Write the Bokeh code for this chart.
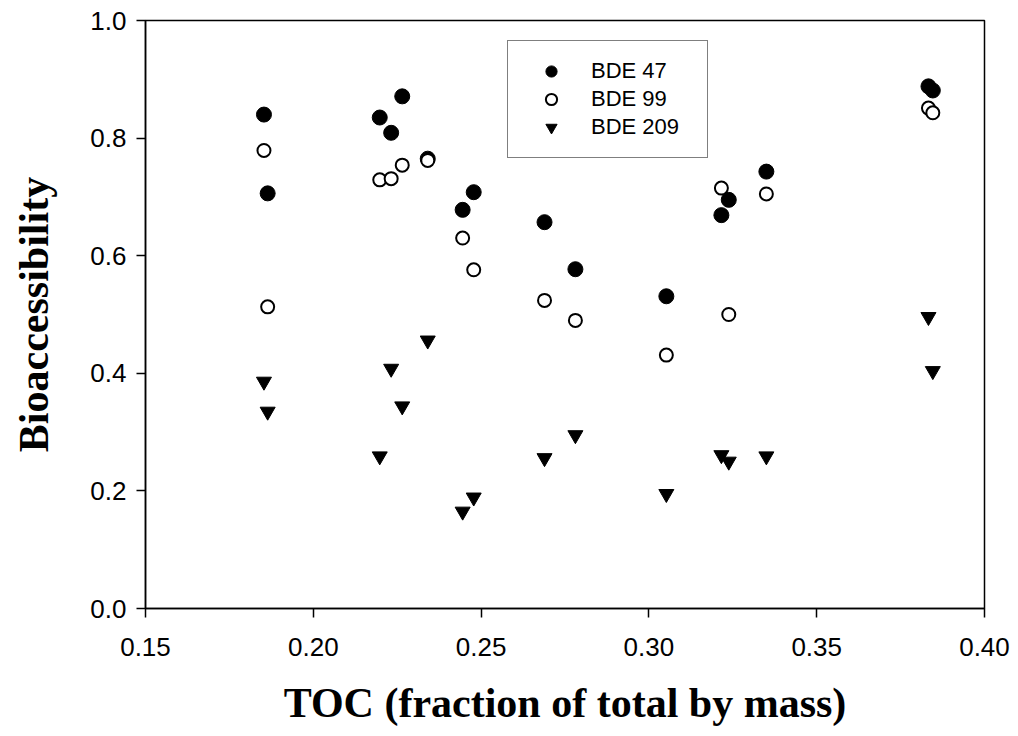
from bokeh.plotting import figure
from bokeh.models import Range1d, FixedTicker, NumeralTickFormatter, Legend, LegendItem
from bokeh.embed import file_html
from bokeh.resources import INLINE

# Data
toc = [0.1853, 0.1864, 0.2198, 0.2232, 0.2265, 0.2341, 0.2445, 0.2478,
       0.2689, 0.2781, 0.3052, 0.3216, 0.3238, 0.3350, 0.3833, 0.3846]
bde47 = [0.840, 0.706, 0.835, 0.809, 0.871, 0.765, 0.678, 0.708,
         0.657, 0.577, 0.531, 0.669, 0.695, 0.743, 0.888, 0.881]
bde99 = [0.779, 0.513, 0.729, 0.731, 0.754, 0.762, 0.630, 0.576,
         0.524, 0.490, 0.431, 0.715, 0.500, 0.705, 0.851, 0.843]
bde209 = [0.386, 0.335, 0.259, 0.408, 0.344, 0.456, 0.165, 0.189,
          0.256, 0.295, 0.195, 0.261, 0.250, 0.259, 0.496, 0.404]
x_ticks = [0.15, 0.20, 0.25, 0.30, 0.35, 0.40]
y_ticks = [0.0, 0.2, 0.4, 0.6, 0.8, 1.0]
x_label = "TOC (fraction of total by mass)"
y_label = "Bioaccessibility"
series_names = ["BDE 47", "BDE 99", "BDE 209"]

p = figure(width=1018, height=736, output_backend="svg", toolbar_location=None,
           x_range=Range1d(0.15, 0.40), y_range=Range1d(0.0, 1.0),
           min_border_left=145, min_border_right=34, min_border_top=20, min_border_bottom=128)
p.background_fill_color = "white"
p.border_fill_color = "white"
p.outline_line_color = "black"
p.outline_line_width = 1.5
p.xgrid.visible = False
p.ygrid.visible = False

r47 = p.scatter(toc, bde47, marker="circle", size=15, fill_color="black", line_color="black", line_width=1)
r99 = p.scatter(toc, bde99, marker="circle", size=13, fill_color="white", line_color="black", line_width=2)
r209 = p.scatter(toc, bde209, marker="inverted_triangle", size=15, fill_color="black", line_color="black", line_width=1)

for ax, ticks, fmt in ((p.xaxis[0], x_ticks, "0.00"), (p.yaxis[0], y_ticks, "0.0")):
    ax.ticker = FixedTicker(ticks=ticks)
    ax.formatter = NumeralTickFormatter(format=fmt)
    ax.minor_tick_line_color = None
    ax.major_tick_in = 0
    ax.major_tick_out = 9
    ax.major_tick_line_width = 1.5
    ax.axis_line_width = 1.5
    ax.major_label_text_font = "Liberation Sans"
    ax.major_label_text_font_size = "26px"
    ax.major_label_text_color = "black"
    ax.axis_label_text_font = "Liberation Serif"
    ax.axis_label_text_font_style = "bold"
    ax.axis_label_text_font_size = "42px"
    ax.axis_label_text_color = "black"

p.xaxis[0].axis_label = x_label
p.xaxis[0].major_label_standoff = 20
p.xaxis[0].axis_label_standoff = 21
p.yaxis[0].axis_label = y_label
p.yaxis[0].major_label_standoff = 10
p.yaxis[0].axis_label_standoff = 30

legend = Legend(items=[LegendItem(label=series_names[0], renderers=[r47]),
                       LegendItem(label=series_names[1], renderers=[r99]),
                       LegendItem(label=series_names[2], renderers=[r209])],
                location=(362, 450))
legend.padding = 16
legend.spacing = 0
legend.glyph_width = 54
legend.glyph_height = 28
legend.label_height = 28
legend.label_width = 100
legend.label_standoff = 13
legend.label_text_font = "Liberation Sans"
legend.label_text_font_size = "22px"
legend.label_text_color = "black"
legend.border_line_color = "black"
legend.border_line_width = 1.5
legend.background_fill_alpha = 1.0
p.add_layout(legend, "center")

open("out.html", "w").write(file_html(p, INLINE))
